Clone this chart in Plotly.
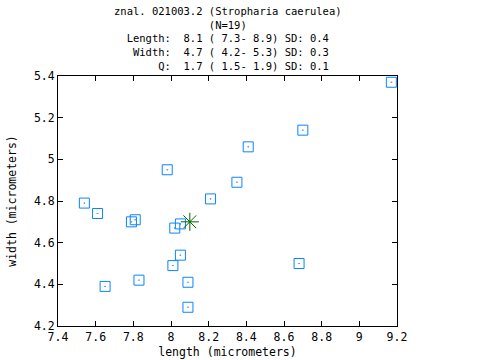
import plotly.graph_objects as go

length = [7.54, 7.61, 7.79, 7.81, 8.02, 8.05, 8.05, 8.01, 8.09, 8.09, 7.83, 7.65,
          8.21, 7.98, 8.41, 8.35, 8.70, 9.17, 8.68]
width = [4.79, 4.74, 4.70, 4.71, 4.67, 4.69, 4.54, 4.49, 4.41, 4.29, 4.42, 4.39,
         4.81, 4.95, 5.06, 4.89, 5.14, 5.37, 4.50]
mean_length = [8.1]
mean_width = [4.7]

title_lines = [
    "znal. 021003.2 (Stropharia caerulea)",
    "(N=19)",
    "Length:  8.1 ( 7.3- 8.9) SD: 0.4",
    " Width:  4.7 ( 4.2- 5.3) SD: 0.3",
    "     Q:  1.7 ( 1.5- 1.9) SD: 0.1",
]
x_ticks = [7.4, 7.6, 7.8, 8.0, 8.2, 8.4, 8.6, 8.8, 9.0, 9.2]
x_labels = ["7.4", "7.6", "7.8", "8", "8.2", "8.4", "8.6", "8.8", "9", "9.2"]
y_ticks = [4.2, 4.4, 4.6, 4.8, 5.0, 5.2, 5.4]
y_labels = ["4.2", "4.4", "4.6", "4.8", "5", "5.2", "5.4"]

FONT = "DejaVu Sans Mono"

fig = go.Figure()
fig.add_trace(go.Scatter(
    x=length, y=width, mode="markers",
    marker=dict(symbol="square-open-dot", size=10, color="#0a84ff",
                line=dict(width=1, color="#0a84ff")),
    showlegend=False, cliponaxis=False))
fig.add_trace(go.Scatter(
    x=mean_length, y=mean_width, mode="markers",
    marker=dict(symbol="asterisk-open", size=15, color="#006400",
                line=dict(width=1, color="#006400")),
    showlegend=False))

L, R, T, B = 58, 83, 76, 34
H = 360 - T - B
title_text = "<br>".join(t.replace(" ", "\u00a0") for t in title_lines)
fig.add_annotation(
    text=title_text, x=0.5, xref="paper",
    y=(360 - B - 38) / H, yref="paper", xanchor="center", yanchor="middle",
    showarrow=False, align="center",
    font=dict(family=FONT, size=10.5, color="black"))

axis_common = dict(
    showgrid=False, zeroline=False, showline=True, linecolor="black", linewidth=1,
    ticks="inside", ticklen=5, tickcolor="black", mirror="ticks", automargin=False,
    tickfont=dict(family=FONT, size=11.5, color="black"),
)
fig.update_xaxes(range=[7.4, 9.2], tickvals=x_ticks, ticktext=x_labels,
                 title=dict(text="length (micrometers)", standoff=5,
                            font=dict(family=FONT, size=11.5, color="black")),
                 **axis_common)
fig.update_yaxes(range=[4.2, 5.4], tickvals=y_ticks, ticktext=y_labels,
                 title=dict(text="width (micrometers)", standoff=14,
                            font=dict(family=FONT, size=11.5, color="black")),
                 **axis_common)
fig.update_layout(
    width=480, height=360, margin=dict(l=L, r=R, t=T, b=B),
    plot_bgcolor="white", paper_bgcolor="white",
)
fig.write_html("out.html", config={"displayModeBar": False},
               post_script="document.body.style.margin='0';")
